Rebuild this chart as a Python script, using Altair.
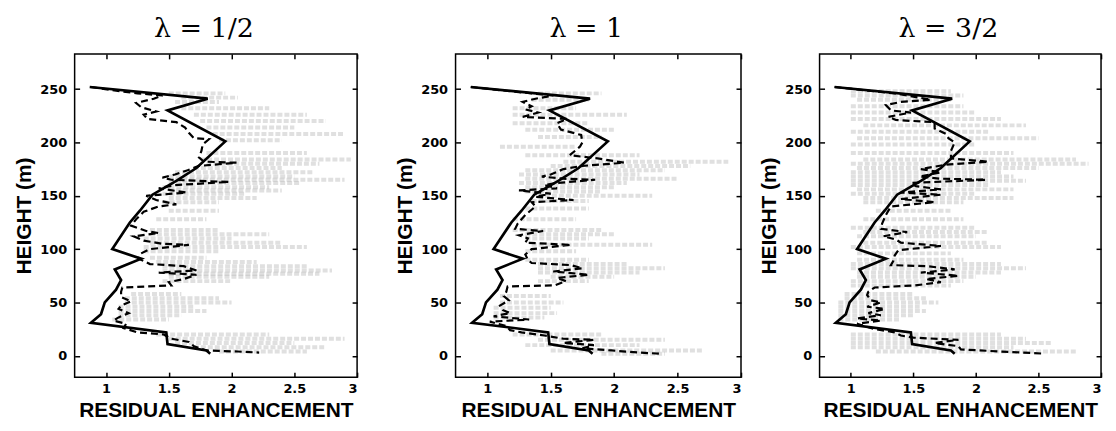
import altair as alt
import pandas as pd

# ---------------- data ----------------
titles = ["λ = 1/2", "λ = 1", "λ = 3/2"]
x_ticks = [1, 1.5, 2, 2.5, 3]
y_ticks = [0, 50, 100, 150, 200, 250]

# mean profile (solid), same in all panels
solid_h = [252, 241, 230, 201, 176, 164, 151, 136, 125, 100, 91, 81, 71, 62, 50, 39, 31, 22, 11, 5, 2]
solid_v = [0.87, 1.81, 1.49, 1.95, 1.72, 1.56, 1.37, 1.27, 1.19, 1.05, 1.28, 1.07, 1.12, 1.08, 0.99, 0.96, 0.88, 1.48, 1.49, 1.80, 1.83]

# dashed profiles, one per panel
dash1_h = [252, 249, 246, 244, 241, 237, 233, 229, 226, 222, 219, 214, 209, 204, 203, 198, 192, 186, 182, 181, 178, 174, 170, 167, 165, 164, 163, 160, 157, 153, 150, 146, 142, 140, 135, 128, 122, 117, 115, 112, 108, 105, 104, 100, 96, 91, 86, 84, 80, 78, 76, 72, 69, 66, 64, 60, 55, 51, 47, 44, 40, 36, 33, 30, 26, 22, 20, 16, 13, 9, 5, 4, 3]
dash1_v = [0.88, 1.05, 1.25, 1.45, 1.38, 1.24, 1.28, 1.40, 1.30, 1.33, 1.56, 1.63, 1.66, 1.70, 1.82, 1.77, 1.76, 1.74, 1.78, 2.04, 1.74, 1.65, 1.55, 1.45, 1.52, 1.75, 1.98, 1.55, 1.42, 1.64, 1.32, 1.40, 1.56, 1.42, 1.30, 1.24, 1.20, 1.32, 1.42, 1.22, 1.30, 1.45, 1.66, 1.35, 1.28, 1.26, 1.35, 1.62, 1.72, 1.42, 1.72, 1.62, 1.50, 1.52, 1.13, 1.12, 1.12, 1.20, 1.12, 1.10, 1.18, 1.10, 1.06, 1.16, 1.14, 1.25, 1.46, 1.52, 1.66, 1.70, 1.80, 2.05, 2.22]

dash2_h = [252, 249, 246, 244, 241, 238, 234, 231, 228, 224, 222, 218, 212, 207, 200, 196, 188, 185, 181, 178, 175, 170, 168, 166, 165, 162, 160, 157, 155, 152, 149, 146, 144, 140, 132, 124, 119, 117, 113, 110, 106, 104, 100, 95, 90, 87, 85, 82, 79, 76, 73, 70, 66, 65, 60, 56, 52, 47, 43, 40, 37, 34, 32, 28, 24, 22, 19, 16, 15, 12, 10, 7, 5, 3, 2]
dash2_v = [0.87, 1.10, 1.35, 1.52, 1.38, 1.28, 1.35, 1.30, 1.40, 1.28, 1.63, 1.55, 1.58, 1.74, 1.75, 1.73, 1.65, 1.87, 2.08, 1.75, 1.60, 1.50, 1.43, 1.60, 1.85, 1.55, 1.45, 1.55, 1.25, 1.50, 1.38, 1.68, 1.35, 1.38, 1.30, 1.24, 1.22, 1.44, 1.25, 1.32, 1.30, 1.66, 1.35, 1.30, 1.32, 1.35, 1.66, 1.75, 1.52, 1.80, 1.55, 1.62, 1.53, 1.16, 1.15, 1.13, 1.17, 1.10, 1.12, 1.18, 1.05, 1.33, 1.02, 1.15, 1.18, 1.27, 1.45, 1.60, 1.84, 1.60, 1.84, 1.75, 1.98, 2.20, 2.36]

dash3_h = [252, 249, 246, 243, 240, 238, 235, 230, 228, 224, 221, 219, 213, 208, 204, 200, 192, 185, 182, 179, 175, 172, 168, 166, 165, 162, 159, 156, 153, 151, 147, 144, 140, 132, 124, 119, 116, 112, 109, 106, 103, 99, 94, 89, 85, 84, 81, 78, 75, 72, 69, 66, 64, 60, 57, 52, 50, 46, 44, 40, 38, 35, 33, 30, 25, 22, 19, 17, 15, 12, 9, 6, 4, 2]
dash3_v = [0.87, 1.10, 1.35, 1.50, 1.64, 1.40, 1.28, 1.32, 1.48, 1.30, 1.36, 1.67, 1.67, 1.76, 1.78, 1.83, 1.80, 1.80, 2.10, 1.75, 1.56, 1.72, 1.55, 1.72, 2.08, 1.48, 1.52, 1.72, 1.40, 1.72, 1.40, 1.67, 1.32, 1.28, 1.25, 1.24, 1.45, 1.26, 1.36, 1.40, 1.72, 1.38, 1.35, 1.34, 1.32, 1.61, 1.83, 1.56, 1.86, 1.60, 1.72, 1.51, 1.19, 1.14, 1.13, 1.16, 1.24, 1.13, 1.27, 1.14, 1.24, 1.05, 1.24, 1.05, 1.19, 1.35, 1.40, 1.50, 1.86, 1.67, 1.86, 1.88, 2.20, 2.55]

# gray individual-profile streaks: height, start, end
gray1_h = [246, 242, 238, 232, 226, 220, 214, 208, 202, 190, 184, 180, 176, 172, 168, 165, 162, 158, 155, 152, 148, 144, 136, 128, 118, 114, 110, 106, 102, 98, 92, 88, 84, 80, 77, 74, 70, 58, 54, 50, 46, 42, 38, 34, 20, 16, 12, 8, 4]
gray1_a = [1.50, 1.60, 1.55, 1.60, 1.70, 1.75, 1.80, 1.85, 1.90, 1.80, 1.75, 1.80, 1.70, 1.55, 1.50, 1.55, 1.50, 1.45, 1.50, 1.45, 1.50, 1.45, 1.50, 1.40, 1.35, 1.35, 1.30, 1.35, 1.30, 1.30, 1.35, 1.40, 1.45, 1.45, 1.50, 1.50, 1.45, 1.20, 1.15, 1.15, 1.10, 1.10, 1.10, 1.05, 1.40, 1.50, 1.55, 1.70, 1.90]
gray1_b = [1.95, 2.05, 1.90, 2.30, 2.60, 2.75, 2.50, 2.90, 2.40, 2.60, 2.95, 2.70, 2.40, 2.65, 2.50, 2.90, 2.55, 2.30, 2.40, 2.10, 2.20, 1.90, 1.90, 1.80, 1.90, 2.30, 2.00, 2.40, 2.60, 1.90, 1.80, 2.20, 2.60, 2.80, 2.70, 2.30, 2.00, 1.60, 1.90, 2.00, 1.70, 1.80, 1.60, 1.50, 2.30, 2.90, 2.50, 2.75, 2.60]

gray2_h = [246, 240, 232, 226, 218, 212, 205, 196, 188, 182, 178, 174, 170, 166, 162, 158, 154, 150, 145, 138, 128, 118, 114, 110, 104, 98, 90, 86, 82, 78, 74, 70, 56, 50, 45, 40, 36, 20, 15, 10, 5, 2]
gray2_a = [1.40, 1.35, 1.20, 1.20, 1.20, 1.30, 1.40, 1.10, 1.30, 1.60, 1.50, 1.30, 1.25, 1.30, 1.25, 1.30, 1.30, 1.40, 1.35, 1.30, 1.20, 1.20, 1.30, 1.30, 1.35, 1.30, 1.30, 1.40, 1.40, 1.40, 1.50, 1.40, 1.10, 1.10, 1.05, 1.05, 1.05, 1.20, 1.40, 1.30, 1.50, 1.90]
gray2_b = [1.90, 1.80, 1.70, 2.10, 1.80, 2.00, 1.90, 1.70, 2.20, 2.90, 2.60, 2.40, 2.20, 2.50, 2.10, 2.00, 1.90, 2.30, 1.80, 1.80, 1.70, 1.90, 2.00, 1.80, 2.30, 1.70, 1.80, 2.10, 2.40, 2.20, 2.00, 1.80, 1.50, 1.60, 1.50, 1.55, 1.45, 1.90, 2.40, 2.20, 2.70, 2.40]

gray3_h = [248, 244, 240, 234, 228, 222, 216, 210, 204, 198, 190, 184, 180, 176, 172, 168, 164, 160, 156, 152, 148, 144, 136, 128, 120, 116, 112, 106, 102, 96, 90, 86, 82, 78, 74, 70, 66, 58, 54, 50, 46, 42, 38, 34, 20, 16, 12, 8, 4]
gray3_a = [1.00, 1.00, 1.05, 1.00, 1.00, 1.00, 1.10, 1.00, 1.05, 1.00, 1.00, 1.10, 1.00, 1.05, 1.00, 1.00, 1.00, 1.00, 1.05, 1.00, 1.10, 1.10, 1.20, 1.10, 1.00, 1.10, 1.05, 1.10, 1.00, 1.05, 1.05, 1.00, 1.00, 1.05, 1.05, 1.00, 1.00, 0.95, 0.95, 0.90, 0.90, 0.90, 0.90, 0.90, 1.00, 1.00, 1.00, 1.00, 1.20]
gray3_b = [1.80, 1.90, 1.80, 1.90, 2.00, 2.20, 2.40, 2.10, 2.50, 2.00, 2.30, 2.80, 2.90, 2.50, 2.20, 2.30, 2.40, 2.10, 2.30, 2.00, 2.30, 1.90, 1.80, 1.90, 2.00, 2.10, 2.00, 2.10, 2.20, 1.80, 1.90, 2.20, 2.40, 2.20, 2.00, 1.90, 1.80, 1.50, 1.60, 1.70, 1.55, 1.60, 1.50, 1.40, 2.20, 2.40, 2.60, 2.30, 2.80]

dash_h = [dash1_h, dash2_h, dash3_h]
dash_v = [dash1_v, dash2_v, dash3_v]
gray_h = [gray1_h, gray2_h, gray3_h]
gray_a = [gray1_a, gray2_a, gray3_a]
gray_b = [gray1_b, gray2_b, gray3_b]
widths = [284, 287, 283]

# ---------------- chart ----------------
xs = alt.Scale(domain=[0.75, 3], nice=False, zero=False)
ys = alt.Scale(domain=[-20, 283], nice=False, zero=False)
LBL_FONT = "DejaVu Sans"
TTL_FONT = "Liberation Sans"
AX_COMMON = dict(labelFont=LBL_FONT, labelFontWeight="bold", labelFontSize=13, labelColor="black",
                 titleFont=TTL_FONT, titleFontWeight="bold", titleFontSize=21, titleColor="black",
                 domain=False, grid=False)


def tick_axis(values, orient):
    return alt.Axis(values=values, orient=orient, labels=False, domain=False, grid=False,
                    ticks=True, tickSize=5, offset=-5, tickColor="black", tickWidth=1.5)


def panel(i):
    gdf = pd.DataFrame({"h": gray_h[i], "a": gray_a[i], "b": gray_b[i]})
    ddf = pd.DataFrame({"h": dash_h[i], "v": dash_v[i], "idx": list(range(len(dash_h[i])))})
    sdf = pd.DataFrame({"h": solid_h, "v": solid_v, "idx": list(range(len(solid_h)))})

    gray = alt.Chart(gdf).mark_rule(color="#a8a8a8", strokeWidth=4, opacity=0.36,
                                    strokeDash=[5, 2], clip=True).encode(
        x=alt.X("a:Q", scale=xs, title="RESIDUAL ENHANCEMENT",
                axis=alt.Axis(values=x_ticks, format="~g", orient="bottom", ticks=False,
                              labelPadding=5, titlePadding=5, **AX_COMMON)),
        x2="b:Q",
        y=alt.Y("h:Q", scale=ys, title="HEIGHT (m)",
                axis=alt.Axis(values=y_ticks, orient="left", ticks=False,
                              labelPadding=8, titlePadding=5, **AX_COMMON)),
    )
    dash = alt.Chart(ddf).mark_line(color="black", strokeWidth=2.2, strokeDash=[7, 4], clip=True).encode(
        x=alt.X("v:Q", scale=xs, title=None, axis=tick_axis(x_ticks, "bottom")),
        y=alt.Y("h:Q", scale=ys, title=None, axis=tick_axis(y_ticks, "left")),
        order="idx:Q",
    )
    solid = alt.Chart(sdf).mark_line(color="black", strokeWidth=2.7, clip=True).encode(
        x=alt.X("v:Q", scale=xs, title=None, axis=tick_axis(x_ticks, "top")),
        y=alt.Y("h:Q", scale=ys, title=None, axis=tick_axis(y_ticks, "right")),
        order="idx:Q",
    )
    return alt.layer(gray, dash, solid).resolve_axis(x="independent", y="independent").properties(
        width=widths[i], height=325,
        title=alt.TitleParams(text=titles[i], font="DejaVu Serif", fontSize=27, fontWeight="normal",
                              anchor="middle", offset=10, dx=-12, color="black"),
    )


chart = alt.hconcat(
    alt.hconcat(panel(0), panel(1), spacing=35),
    panel(2),
    spacing=15,
).configure_view(
    stroke="black", strokeWidth=1.5
)

chart.save("out.html", embed_options={"renderer": "svg", "actions": False})
